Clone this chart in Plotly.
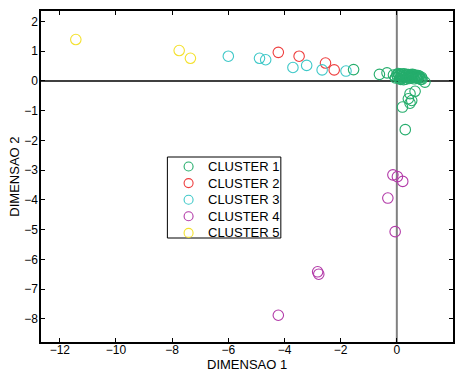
import plotly.graph_objects as go

# Cluster coordinates on the two dimensions
c1_x = [-1.54, -0.62, -0.35, -0.12, -0.05, 0.00, 0.03, 0.05, 0.08, 0.10, 0.12, 0.15, 0.18,
        0.20, 0.22, 0.25, 0.27, 0.30, 0.32, 0.34, 0.36, 0.38, 0.40, 0.42, 0.44, 0.46,
        0.48, 0.50, 0.52, 0.54, 0.56, 0.58, 0.60, 0.62, 0.64, 0.66, 0.68, 0.70, 0.72,
        0.74, 0.76, 0.78, 0.80, 0.82, 0.85, 0.88, 0.90, 1.00, 0.06, 0.14, 0.24,
        0.47, 0.65, 0.41, 0.53, 0.47, 0.20, 0.30]
c1_y = [0.38, 0.22, 0.27, 0.20, 0.10, 0.20, 0.12, 0.25, 0.18, 0.08, 0.22, 0.14, 0.23,
        0.10, 0.19, 0.24, 0.12, 0.17, 0.06, 0.22, 0.20, 0.11, 0.15, 0.21, 0.08, 0.18,
        0.13, 0.21, 0.10, 0.16, 0.22, 0.12, 0.19, 0.07, 0.15, 0.20, 0.11, 0.17, 0.14,
        0.09, 0.18, 0.13, 0.16, 0.10, 0.05, 0.12, 0.06, -0.04, 0.23, 0.05, 0.04,
        -0.43, -0.35, -0.60, -0.66, -0.75, -0.88, -1.64]

c2_x = [-4.22, -3.48, -2.54, -2.23]
c2_y = [0.96, 0.83, 0.60, 0.37]

c3_x = [-6.00, -4.89, -4.67, -3.70, -3.21, -2.66, -1.81]
c3_y = [0.83, 0.76, 0.71, 0.45, 0.52, 0.37, 0.33]

c4_x = [-0.14, 0.02, 0.21, -0.32, -0.06, -2.82, -2.78, -4.22]
c4_y = [-3.16, -3.22, -3.38, -3.94, -5.07, -6.42, -6.50, -7.88]

c5_x = [-11.43, -7.75, -7.35]
c5_y = [1.39, 1.02, 0.76]

names = ["CLUSTER 1", "CLUSTER 2", "CLUSTER 3", "CLUSTER 4", "CLUSTER 5"]
colors = ["#25ad6c", "#ee3d3d", "#3ec8c8", "#b23aa8", "#f4e12e"]
series = [(c1_x, c1_y), (c2_x, c2_y), (c3_x, c3_y), (c4_x, c4_y), (c5_x, c5_y)]

x_ticks = [-12, -10, -8, -6, -4, -2, 0, 2]
y_ticks = [-8, -7, -6, -5, -4, -3, -2, -1, 0, 1, 2]

W, H = 456, 373
ML, MR, MT, MB = 41, 1, 11, 31
PW, PH = W - ML - MR, H - MT - MB
FONT = "Liberation Sans, Arial, sans-serif"


def px_x(p):
    """figure pixel column -> paper x"""
    return (p - ML) / PW


def px_y(p):
    """figure pixel row -> paper y"""
    return (H - MB - p) / PH


fig = go.Figure()
for (xs, ys), name, col in zip(series, names, colors):
    fig.add_trace(go.Scatter(
        x=xs, y=ys, mode="markers", name=name, showlegend=False,
        marker=dict(symbol="circle-open", size=10.5, color=col, line=dict(width=1.1, color=col)),
    ))

# reference lines through the origin
fig.add_shape(type="line", xref="x", yref="paper", x0=0, x1=0, y0=0, y1=1,
              line=dict(color="#808080", width=2), layer="below")
fig.add_shape(type="line", xref="paper", yref="y", x0=0, x1=1, y0=0, y1=0,
              line=dict(color="black", width=1.5), layer="below")

# boxed legend
box_l, box_r, box_t, box_b = 168, 282, 157, 238
fig.add_shape(type="rect", xref="paper", yref="paper",
              x0=px_x(box_l), x1=px_x(box_r), y0=px_y(box_b), y1=px_y(box_t),
              line=dict(color="black", width=1), fillcolor="white", layer="above")
row0, row_gap = 166.5, 16.6
for i, (name, col) in enumerate(zip(names, colors)):
    cy = row0 + i * row_gap
    fig.add_shape(type="circle", xref="paper", yref="paper",
                  xsizemode="pixel", ysizemode="pixel",
                  xanchor=px_x(189.3), yanchor=px_y(cy),
                  x0=-4.5, x1=4.5, y0=-4.5, y1=4.5,
                  line=dict(color=col, width=1.1), layer="above")
    fig.add_annotation(x=px_x(207), y=px_y(cy), xref="paper", yref="paper",
                       text=name, showarrow=False, xanchor="left", yanchor="middle",
                       font=dict(family=FONT, size=13, color="black"))

# axis titles
fig.add_annotation(x=0.5, y=px_y(373), xref="paper", yref="paper", text="DIMENSAO 1",
                   showarrow=False, xanchor="center", yanchor="bottom", borderpad=0,
                   font=dict(family=FONT, size=13, color="black"))
fig.add_annotation(x=px_x(14), y=0.5, xref="paper", yref="paper", text="DIMENSAO 2",
                   showarrow=False, xanchor="center", yanchor="middle", textangle=-90,
                   font=dict(family=FONT, size=13, color="black"))

axis_common = dict(
    showgrid=False, zeroline=False, showline=True, linecolor="black", linewidth=1.5,
    mirror="ticks", ticks="inside", ticklen=4, tickcolor="black",
    tickfont=dict(family=FONT, size=12, color="black"),
)

fig.update_layout(
    width=W, height=H,
    margin=dict(l=ML, r=MR, t=MT, b=MB),
    paper_bgcolor="white", plot_bgcolor="white",
    font=dict(family=FONT, size=12, color="black"),
    xaxis=dict(axis_common, range=[-12.67, 2.0], tickvals=x_ticks, ticklabelstandoff=-4),
    yaxis=dict(axis_common, range=[-8.78, 2.35], tickvals=y_ticks, ticklabelstandoff=-1),
    showlegend=False,
)

fig.write_html("out.html")
